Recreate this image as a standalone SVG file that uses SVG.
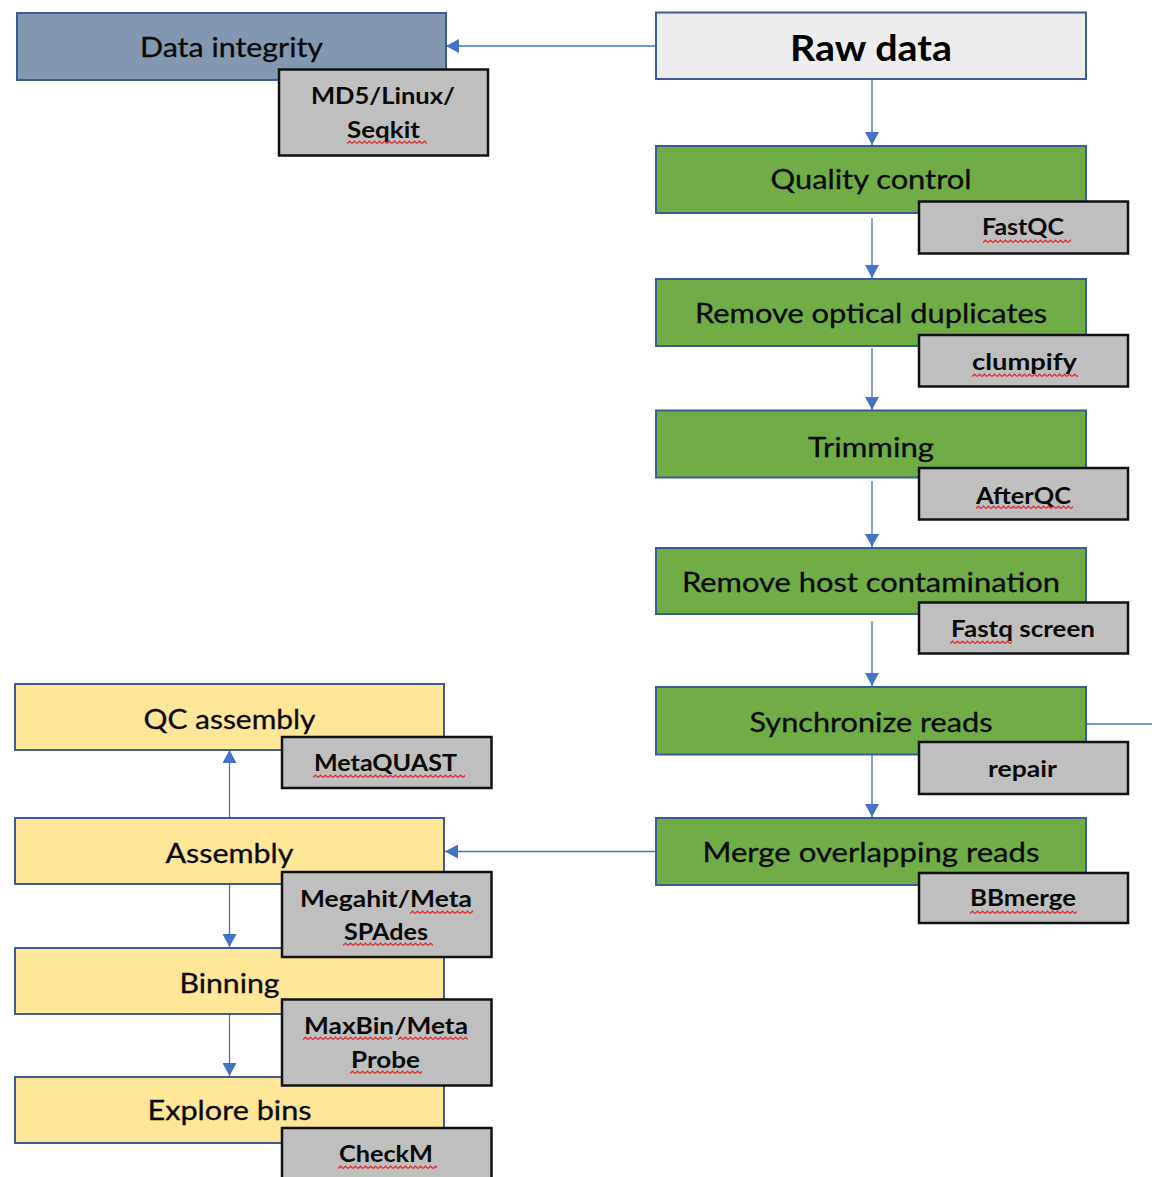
<svg xmlns="http://www.w3.org/2000/svg" width="1152" height="1177" viewBox="0 0 1152 1177">
<style>
.box{stroke:#3B5C94;stroke-width:2}
.blue{fill:#8497B0}
.raw{fill:#EDEDED}
.green{fill:#70AD47}
.yellow{fill:#FFE699}
.tool{fill:#BFBFBF;stroke:#111;stroke-width:2.5}
.t{font-family:Lato,"Open Sans","Liberation Sans",sans-serif;font-size:26px;fill:#0A0A0A;stroke:#0A0A0A;stroke-width:0.3;text-anchor:middle}
.tb{font-family:Lato,"Open Sans","Liberation Sans",sans-serif;font-size:22px;font-weight:bold;fill:#0A0A0A;text-anchor:middle}
.raw-t{font-family:Lato,"Open Sans","Liberation Sans",sans-serif;font-size:37px;font-weight:bold;fill:#000;text-anchor:middle}
.c{stroke:#4472C4;stroke-width:1.3;fill:none}
.sq{fill:url(#sq)}
</style>
<defs>
<marker id="arr" viewBox="0 0 13 14" refX="13" refY="7" markerWidth="13" markerHeight="14" markerUnits="userSpaceOnUse" orient="auto">
<path d="M0 0 L13 7 L0 14 z" fill="#4472C4"/>
</marker>
<pattern id="sq" width="5" height="5" patternUnits="userSpaceOnUse">
<path d="M0 3.6 L2.5 1.2 L5 3.6" stroke="#E0282E" stroke-width="1.2" fill="none"/>
</pattern>
</defs>
<rect width="1152" height="1177" fill="#FFFFFF"/>

<g id="connectors">
<line class="c" x1="656" y1="46" x2="446" y2="46" marker-end="url(#arr)"/>
<line class="c" x1="872" y1="79" x2="872" y2="145" marker-end="url(#arr)"/>
<line class="c" x1="872" y1="218" x2="872" y2="278" marker-end="url(#arr)"/>
<line class="c" x1="872" y1="348" x2="872" y2="410" marker-end="url(#arr)"/>
<line class="c" x1="872" y1="481" x2="872" y2="547" marker-end="url(#arr)"/>
<line class="c" x1="872" y1="621" x2="872" y2="686" marker-end="url(#arr)"/>
<line class="c" x1="872" y1="755" x2="872" y2="817" marker-end="url(#arr)"/>
<line class="c" x1="1086" y1="724" x2="1152" y2="724"/>
<line class="c" x1="656" y1="851.5" x2="445" y2="851.5" marker-end="url(#arr)"/>
<line class="c" x1="229.5" y1="817" x2="229.5" y2="750" marker-end="url(#arr)"/>
<line class="c" x1="229.5" y1="884" x2="229.5" y2="947" marker-end="url(#arr)"/>
<line class="c" x1="229.5" y1="1014" x2="229.5" y2="1076" marker-end="url(#arr)"/>
</g>

<g id="data-integrity">
<rect class="box blue" x="17" y="13" width="429" height="67"/>
<text class="t" x="231.5" y="57" textLength="183" lengthAdjust="spacingAndGlyphs">Data integrity</text>
</g>
<g id="raw-data">
<rect class="box raw" x="656" y="12.5" width="430" height="66.5"/>
<text class="raw-t" x="871" y="60.5" textLength="162" lengthAdjust="spacingAndGlyphs">Raw data</text>
</g>
<g id="quality-control">
<rect class="box green" x="656" y="146" width="430" height="67"/>
<text class="t" x="871" y="189" textLength="201" lengthAdjust="spacingAndGlyphs">Quality control</text>
</g>
<g id="remove-optical-duplicates">
<rect class="box green" x="656" y="279" width="430" height="67"/>
<text class="t" x="871" y="323" textLength="352" lengthAdjust="spacingAndGlyphs">Remove optical duplicates</text>
</g>
<g id="trimming">
<rect class="box green" x="656" y="410.5" width="430" height="67"/>
<text class="t" x="871" y="457" textLength="126" lengthAdjust="spacingAndGlyphs">Trimming</text>
</g>
<g id="remove-host-contamination">
<rect class="box green" x="656" y="548" width="430" height="66"/>
<text class="t" x="871" y="592" textLength="378" lengthAdjust="spacingAndGlyphs">Remove host contamination</text>
</g>
<g id="synchronize-reads">
<rect class="box green" x="656" y="687" width="430" height="67.5"/>
<text class="t" x="871" y="732" textLength="243" lengthAdjust="spacingAndGlyphs">Synchronize reads</text>
</g>
<g id="merge-overlapping-reads">
<rect class="box green" x="656" y="818" width="430" height="67"/>
<text class="t" x="871" y="862" textLength="337" lengthAdjust="spacingAndGlyphs">Merge overlapping reads</text>
</g>
<g id="qc-assembly">
<rect class="box yellow" x="15" y="684" width="429" height="66"/>
<text class="t" x="229.5" y="728.5" textLength="172" lengthAdjust="spacingAndGlyphs">QC assembly</text>
</g>
<g id="assembly">
<rect class="box yellow" x="15" y="818" width="429" height="66"/>
<text class="t" x="229.5" y="862.5" textLength="128" lengthAdjust="spacingAndGlyphs">Assembly</text>
</g>
<g id="binning">
<rect class="box yellow" x="15" y="948" width="429" height="66"/>
<text class="t" x="229.5" y="992.5" textLength="100" lengthAdjust="spacingAndGlyphs">Binning</text>
</g>
<g id="explore-bins">
<rect class="box yellow" x="15" y="1077" width="429" height="66"/>
<text class="t" x="229.5" y="1119.5" textLength="164" lengthAdjust="spacingAndGlyphs">Explore bins</text>
</g>

<g id="tool-md5">
<rect class="tool" x="279" y="69.5" width="209" height="86"/>
<text class="tb" x="383" y="103.5" textLength="144" lengthAdjust="spacingAndGlyphs">MD5/Linux/</text>
<text class="tb" x="383.5" y="137.5" textLength="73" lengthAdjust="spacingAndGlyphs">Seqkit</text>
<rect class="sq" width="80" height="5" transform="translate(347,140)"/>
</g>
<g id="tool-fastqc">
<rect class="tool" x="919" y="201.5" width="209" height="52"/>
<text class="tb" x="1023" y="235" textLength="82" lengthAdjust="spacingAndGlyphs">FastQC</text>
<rect class="sq" width="88" height="5" transform="translate(983,239)"/>
</g>
<g id="tool-clumpify">
<rect class="tool" x="919" y="335" width="209" height="51.5"/>
<text class="tb" x="1024.5" y="369.5" textLength="105" lengthAdjust="spacingAndGlyphs">clumpify</text>
<rect class="sq" width="106" height="5" transform="translate(972,373)"/>
</g>
<g id="tool-afterqc">
<rect class="tool" x="919" y="468" width="209" height="51.5"/>
<text class="tb" x="1023.5" y="503.5" textLength="95" lengthAdjust="spacingAndGlyphs">AfterQC</text>
<rect class="sq" width="97" height="5" transform="translate(976,505)"/>
</g>
<g id="tool-fastq-screen">
<rect class="tool" x="919" y="602.5" width="209" height="51"/>
<text class="tb" x="1023" y="637" textLength="144" lengthAdjust="spacingAndGlyphs">Fastq screen</text>
<rect class="sq" width="62" height="5" transform="translate(950,640)"/>
</g>
<g id="tool-repair">
<rect class="tool" x="919" y="742" width="209" height="52"/>
<text class="tb" x="1022.5" y="777" textLength="69" lengthAdjust="spacingAndGlyphs">repair</text>
</g>
<g id="tool-bbmerge">
<rect class="tool" x="919" y="873" width="209" height="50"/>
<text class="tb" x="1023" y="906" textLength="106" lengthAdjust="spacingAndGlyphs">BBmerge</text>
<rect class="sq" width="107" height="5" transform="translate(970,910)"/>
</g>
<g id="tool-metaquast">
<rect class="tool" x="282" y="737" width="209.5" height="51"/>
<text class="tb" x="385.5" y="771" textLength="143" lengthAdjust="spacingAndGlyphs">MetaQUAST</text>
<rect class="sq" width="152" height="5" transform="translate(313,774)"/>
</g>
<g id="tool-megahit">
<rect class="tool" x="282" y="872" width="209.5" height="85"/>
<text class="tb" x="386" y="906.5" textLength="172" lengthAdjust="spacingAndGlyphs">Megahit/Meta</text>
<text class="tb" x="386" y="940" textLength="84" lengthAdjust="spacingAndGlyphs">SPAdes</text>
<rect class="sq" width="63" height="5" transform="translate(410,910)"/>
<rect class="sq" width="90" height="5" transform="translate(343,942)"/>
</g>
<g id="tool-maxbin">
<rect class="tool" x="282" y="999.5" width="209.5" height="86"/>
<text class="tb" x="386" y="1034" textLength="164" lengthAdjust="spacingAndGlyphs">MaxBin/Meta</text>
<text class="tb" x="385.5" y="1067.5" textLength="69" lengthAdjust="spacingAndGlyphs">Probe</text>
<rect class="sq" width="89" height="5" transform="translate(303,1036)"/>
<rect class="sq" width="70" height="5" transform="translate(398,1036)"/>
<rect class="sq" width="72" height="5" transform="translate(350,1070)"/>
</g>
<g id="tool-checkm">
<rect class="tool" x="282" y="1128" width="209.5" height="60"/>
<text class="tb" x="386" y="1162" textLength="94" lengthAdjust="spacingAndGlyphs">CheckM</text>
<rect class="sq" width="99" height="5" transform="translate(338,1165)"/>
</g>
</svg>
